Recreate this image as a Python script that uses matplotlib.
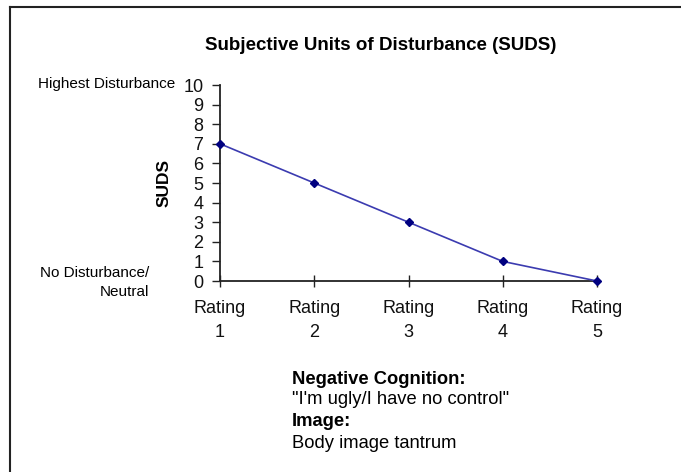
import matplotlib
matplotlib.use("Agg")
import matplotlib.pyplot as plt
from matplotlib.lines import Line2D

plt.rcParams['font.family'] = ['Liberation Sans', 'DejaVu Sans']

categories = ["Rating\n1", "Rating\n2", "Rating\n3", "Rating\n4", "Rating\n5"]
positions = [1, 2, 3, 4, 5]
suds = [7, 5, 3, 1, 0]
yticks = list(range(0, 11))

W, H = 681, 472
fig = plt.figure(figsize=(W / 100, H / 100), dpi=100)

# outer frame (left and top lines)
fig.add_artist(Line2D([10 / W, 10 / W], [0, 1 - 7 / H], color='#222222', lw=1.5, transform=fig.transFigure))
fig.add_artist(Line2D([10 / W, 1], [1 - 7 / H, 1 - 7 / H], color='#222222', lw=1.5, transform=fig.transFigure))

left, right = 220 / W, 597 / W
bottom, top = 1 - 281 / H, 1 - 85 / H
ax = fig.add_axes([left, bottom, right - left, top - bottom])
ax.set_xlim(1, 5)
ax.set_ylim(0, 10)
ax.plot(positions, suds, color='#3b3bb0', lw=1.2, marker='D', markersize=4.5,
        markerfacecolor='#000080', markeredgecolor='#000080', clip_on=False, zorder=5)

for s in ['top', 'right']:
    ax.spines[s].set_visible(False)
for s in ['left', 'bottom']:
    ax.spines[s].set_color('#222222')
    ax.spines[s].set_linewidth(1.3)

ax.set_yticks(yticks)
ax.set_yticklabels([str(v) for v in yticks], fontsize=13)
ax.tick_params(axis='y', direction='out', length=6, width=1, pad=6, colors='#222222', labelcolor='#111111')
ax.set_xticks(positions)
ax.set_xticklabels(categories, fontsize=13, linespacing=1.5)
ax.tick_params(axis='x', direction='inout', length=8, width=1, pad=10, colors='#222222', labelcolor='#111111')

fig.text(164 / W, 1 - 183 / H, "SUDS", fontsize=12.5, fontweight='bold', rotation=90,
         ha='center', va='center')

fig.text(381 / W, 1 - 45 / H, "Subjective Units of Disturbance (SUDS)", fontsize=13.5,
         fontweight='bold', ha='center', va='center')
fig.text(175 / W, 1 - 84 / H, "Highest Disturbance", fontsize=11, ha='right', va='center')
fig.text(149 / W, 1 - 273 / H, "No Disturbance/", fontsize=11, ha='right', va='center')
fig.text(149 / W, 1 - 292 / H, "Neutral", fontsize=11, ha='right', va='center')

fig.text(292 / W, 1 - 379 / H, "Negative Cognition:", fontsize=13.2, fontweight='bold', ha='left', va='center')
fig.text(292 / W, 1 - 400 / H, "\"I'm ugly/I have no control\"", fontsize=13.2, ha='left', va='center')
fig.text(292 / W, 1 - 421 / H, "Image:", fontsize=13.2, fontweight='bold', ha='left', va='center')
fig.text(292 / W, 1 - 443 / H, "Body image tantrum", fontsize=13.2, ha='left', va='center')

fig.savefig("out.png", dpi=100)
